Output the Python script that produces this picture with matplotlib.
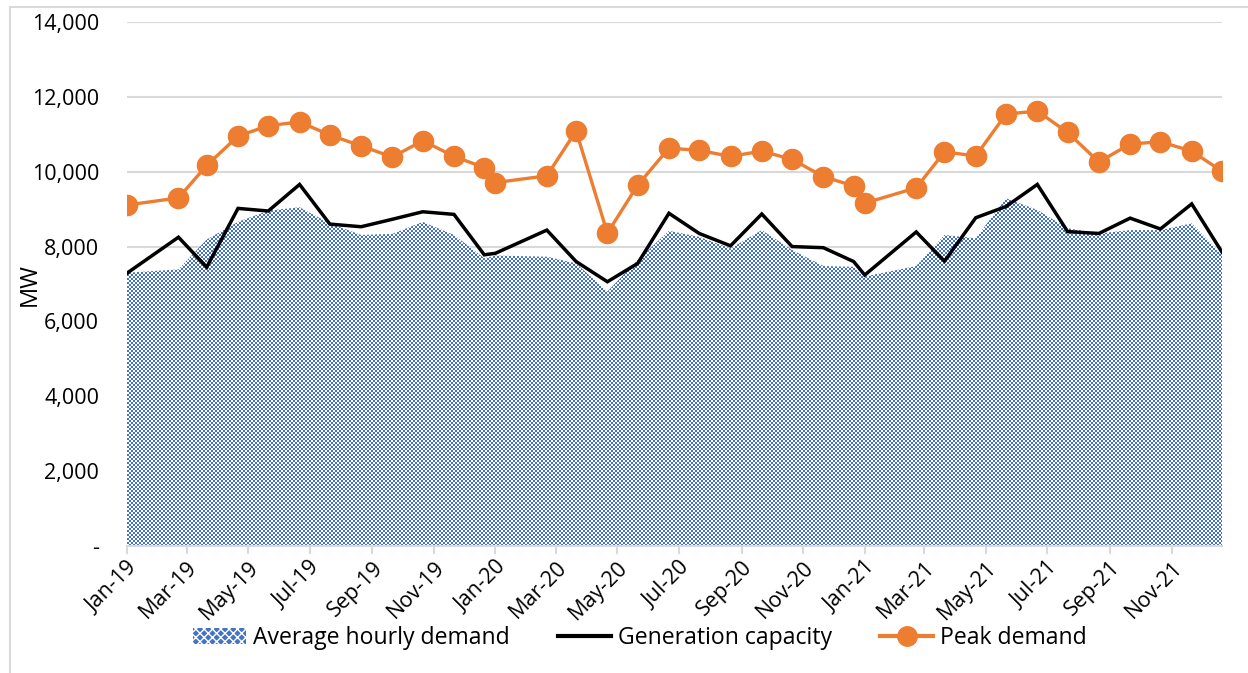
import numpy as np
import matplotlib
matplotlib.use("Agg")
import matplotlib.pyplot as plt
import matplotlib.dates as mdates
from matplotlib.patches import Patch
from matplotlib.lines import Line2D
from matplotlib.ticker import FuncFormatter
import pandas as pd

plt.rcParams['font.family'] = ['Open Sans', 'DejaVu Sans']

# Data dates (January entries on the 1st, other months on the 21st, as in the source sheet)
dates = [
    "2019-01-01", "2019-02-21", "2019-03-21", "2019-04-21", "2019-05-21", "2019-06-21",
    "2019-07-21", "2019-08-21", "2019-09-21", "2019-10-21", "2019-11-21", "2019-12-21",
    "2020-01-01", "2020-02-21", "2020-03-21", "2020-04-21", "2020-05-21", "2020-06-21",
    "2020-07-21", "2020-08-21", "2020-09-21", "2020-10-21", "2020-11-21", "2020-12-21",
    "2021-01-01", "2021-02-21", "2021-03-21", "2021-04-21", "2021-05-21", "2021-06-21",
    "2021-07-21", "2021-08-21", "2021-09-21", "2021-10-21", "2021-11-21", "2021-12-21",
]

avg_hourly_demand = [
    7300, 7390, 8190, 8660, 8960, 9050, 8620, 8310, 8340, 8660, 8310, 7690,
    7760, 7730, 7550, 6800, 7640, 8420, 8260, 7950, 8440, 7910, 7480, 7460,
    7200, 7480, 8310, 8220, 9290, 8980, 8490, 8350, 8440, 8440, 8620, 7780,
]

generation_capacity = [
    7290, 8250, 7450, 9020, 8950, 9660, 8600, 8530, 8730, 8930, 8860, 7780,
    7820, 8440, 7600, 7060, 7550, 8890, 8350, 8020, 8870, 8000, 7970, 7600,
    7240, 8390, 7610, 8770, 9070, 9660, 8400, 8350, 8760, 8470, 9140, 7850,
]

peak_demand = [
    9110, 9300, 10170, 10950, 11230, 11330, 10980, 10690, 10390, 10830, 10410, 10110,
    9710, 9890, 11090, 8360, 9640, 10630, 10570, 10410, 10550, 10330, 9870, 9620,
    9160, 9570, 10530, 10420, 11540, 11620, 11050, 10260, 10740, 10800, 10550, 10010,
]

y_ticks = [0, 2000, 4000, 6000, 8000, 10000, 12000, 14000]
series_names = ["Average hourly demand", "Generation capacity", "Peak demand"]

BLUE = "#4472C4"
ORANGE = "#ED7D31"
GRID = "#D9D9D9"

x = pd.to_datetime(dates)
xn = mdates.date2num(x)

W, H = 1248, 673
fig = plt.figure(figsize=(W / 100, H / 100), dpi=100)
L, R, T, B = 127, 1222, 22, 546
ax = fig.add_axes([L / W, 1 - B / H, (R - L) / W, (B - T) / H])

ax.set_xlim(xn[0], xn[-1])
ax.set_ylim(0, 14000)

# Area with a fine blue/white checker pattern
poly = ax.fill_between(xn, 0, avg_hourly_demand, facecolor="none", edgecolor="none", zorder=2)
npx, npy = R - L, B - T
jj, ii = np.meshgrid(np.arange(npx), np.arange(npy))
mask = ((jj // 2) + (ii // 2)) % 2 == 0
blue_rgb = np.array([0x44, 0x72, 0xC4]) / 255.0
light = np.array([1.0, 1.0, 1.0])
img = np.where(mask[..., None], blue_rgb, light)
im = ax.imshow(img, extent=[xn[0], xn[-1], 0, 14000], aspect="auto",
               interpolation="nearest", zorder=2, origin="upper")
im.set_clip_path(poly.get_paths()[0], transform=ax.transData)

ax.plot(xn, generation_capacity, color="black", lw=2.5, zorder=3, solid_joinstyle="miter")
ax.plot(xn, peak_demand, color=ORANGE, lw=2.4, marker="o", ms=14.5, zorder=4)

# Axes styling
ax.set_yticks(y_ticks)
ax.yaxis.set_major_formatter(FuncFormatter(lambda v, p: "-" if v == 0 else f"{int(v):,}"))
ax.grid(axis="y", color=GRID, lw=1.5)
ax.set_axisbelow(True)
for s in ["top", "right", "left"]:
    ax.spines[s].set_visible(False)
ax.spines["bottom"].set_color(GRID)
ax.spines["bottom"].set_linewidth(1.5)
ax.spines["bottom"].set_zorder(5)
ax.tick_params(axis="y", length=0, pad=20, labelsize=15.5)
ax.tick_params(axis="x", length=6, width=1.5, color=GRID, labelsize=15.5, pad=2)

ax.xaxis.set_major_locator(mdates.MonthLocator(bymonth=[1, 3, 5, 7, 9, 11]))
ax.xaxis.set_major_formatter(mdates.DateFormatter("%b-%y"))
for lab in ax.get_xticklabels():
    lab.set_rotation(45)
    lab.set_ha("right")
    lab.set_va("top")
    lab.set_rotation_mode("anchor")

ax.set_ylabel("MW", fontsize=17)
ax.yaxis.set_label_coords((42 - L) / (R - L), 0.5)

handles = [
    Patch(facecolor=BLUE, edgecolor="white", hatch="xxxx", lw=0),
    Line2D([], [], color="black", lw=3),
    Line2D([], [], color=ORANGE, lw=3, marker="o", ms=14),
]
fig.legend(handles, series_names, loc="center", bbox_to_anchor=(640 / W, 1 - 638 / H),
           ncol=3, frameon=False, fontsize=16.6, handlelength=2.3, handletextpad=0.3,
           columnspacing=2.1, borderaxespad=0)

# Chart border (left and top)
fig.add_artist(Line2D([10 / W, 10 / W], [0, 1 - 7 / H], color=GRID, lw=1.5, transform=fig.transFigure))
fig.add_artist(Line2D([10 / W, 1], [1 - 7 / H, 1 - 7 / H], color=GRID, lw=1.5, transform=fig.transFigure))

fig.savefig("out.png", dpi=100)
